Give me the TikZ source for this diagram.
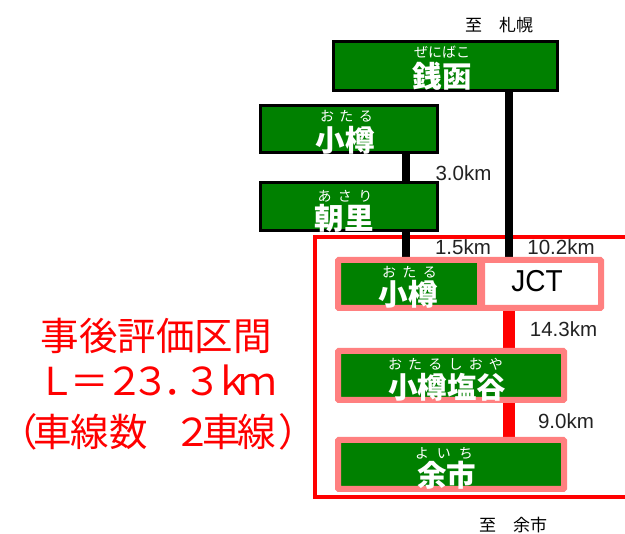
\documentclass[tikz,border=0pt]{standalone}
\usepackage{fontspec}
\setmainfont{Noto Sans CJK JP}
\newfontfamily\latin{Liberation Sans}
\definecolor{sgreen}{HTML}{008000}
\definecolor{pinkb}{HTML}{FF8080}
\definecolor{kmgray}{HTML}{222222}
\newcommand{\fz}[1]{\fontsize{#1}{#1}\selectfont}
\newcommand{\charat}[2]{\makebox[0pt][l]{\hspace*{#1pt}\makebox[0pt]{#2}}}
\tikzset{
  gbox/.style={draw=black, line width=2pt, fill=sgreen, inner sep=0pt},
  pbox/.style={draw=pinkb, line width=4pt, fill=sgreen, inner sep=0pt, rounded corners=1.5pt},
  jbox/.style={draw=pinkb, line width=4pt, fill=white, inner sep=0pt, rounded corners=1.5pt},
  furi/.style={text=white, font=\fz{14}, inner sep=0pt},
  kanji/.style={text=white, font=\fz{29.5}\bfseries, inner sep=0pt},
  km/.style={text=kmgray, font=\latin\fz{20.5}, inner sep=0pt},
  dest/.style={text=black, font=\fz{17}, inner sep=0pt},
  redtxt/.style={text=red, font=\fz{38.5}, inner sep=0pt},
  blkline/.style={line width=8pt, black},
  redline/.style={line width=12pt, red},
}
\begin{document}
\begin{tikzpicture}[x=1pt,y=-1pt]
\clip (0,0) rectangle (625,534);
\fill[white] (0,0) rectangle (625,534);

% red evaluation frame
\draw[red, line width=4pt] (640,237) -- (315,237) -- (315,497) -- (640,497);

% coordinates for connector x positions
\coordinate (xa) at (405.5,0);
\coordinate (xb) at (508.5,0);
\coordinate (xc) at (509,0);

% boxes (nodes)
\node[gbox, minimum width=223pt, minimum height=48pt] (zenibako) at (445.5,66.5) {};
\node[gbox, minimum width=176pt, minimum height=46pt] (otaru1) at (348.5,129.5) {};
\node[gbox, minimum width=176pt, minimum height=47pt] (asari) at (348.5,207) {};
\node[pbox, minimum width=142pt, minimum height=46pt] (otaru2) at (410,284) {};
\node[jbox, minimum width=119pt, minimum height=46pt] (jct) at (540.5,284) {};
\node[pbox, minimum width=224pt, minimum height=47pt] (shioya) at (451,375.5) {};
\node[pbox, minimum width=224pt, minimum height=47pt] (yoichi) at (451,464.5) {};

% connectors
\draw[blkline] (otaru1.south -| xa) -- (asari.north -| xa);
\draw[blkline] (asari.south -| xa) -- (otaru2.north -| xa);
\draw[blkline] (zenibako.south -| xb) -- (jct.north -| xb);
\draw[redline] (jct.south -| xc) -- (shioya.north -| xc);
\draw[redline] (shioya.south -| xc) -- (yoichi.north -| xc);

% redraw box borders on top of connectors
\draw[black, line width=2pt] (zenibako.south west) rectangle (zenibako.north east);
\draw[black, line width=2pt] (otaru1.south west) rectangle (otaru1.north east);
\draw[black, line width=2pt] (asari.south west) rectangle (asari.north east);
\draw[pinkb, line width=4pt, rounded corners=1.5pt] (otaru2.south west) rectangle (otaru2.north east);
\draw[pinkb, line width=4pt, rounded corners=1.5pt] (jct.south west) rectangle (jct.north east);
\draw[pinkb, line width=4pt, rounded corners=1.5pt] (shioya.south west) rectangle (shioya.north east);
\draw[pinkb, line width=4pt, rounded corners=1.5pt] (yoichi.south west) rectangle (yoichi.north east);

% box texts
\node[furi] (zf) at (442,52.5) {\makebox[56pt]{ぜ\hfill に\hfill ば\hfill こ}};
\node[kanji] (zk) at (442,76.5) {銭函};
\node[furi] (o1f) at (346.5,116) {\makebox[53pt]{お\hfill た\hfill る}};
\node[kanji] (o1k) at (345,140) {小樽};
\node[furi] (af) at (345,196) {\makebox[55pt]{あ\hfill さ\hfill り}};
\node[kanji] (ak) at (344,218.5) {朝里};
\node[furi] (o2f) at (409.5,272.5) {\makebox[55pt]{お\hfill た\hfill る}};
\node[kanji] (o2k) at (408,294) {小樽};
\node[furi] (sf) at (445.5,364.5) {\makebox[115pt]{お\hfill た\hfill る\hfill し\hfill お\hfill や}};
\node[kanji] (sk) at (447,387) {小樽塩谷};
\node[furi] (yf) at (444,453.5) {\makebox[58pt]{よ\hfill い\hfill ち}};
\node[kanji] (yk) at (446.5,475) {余市};
\node[text=black, font=\latin\fz{28}, inner sep=0pt, yscale=1.08, transform shape] (jt) at (537,281.5) {JCT};

% distance labels
\node[km] (d1) at (463.5,173.5) {3.0km};
\node[km] (d2) at (463,247) {1.5km};
\node[km] (d3) at (561,247) {10.2km};
\node[km] (d4) at (563.5,329.5) {14.3km};
\node[km] (d5) at (566,421) {9.0km};

% destinations
\node[dest] (top) at (499,25.5) {至　札幌};
\node[dest] (bot) at (513,525.5) {至　余市};

% red description
\node[redtxt, anchor=base] (r1) at (156.5,350.5) {事後評価区間};
\node[redtxt, anchor=base west] (r2) at (0,395.4)
  {\charat{56.5}{Ｌ}\charat{89}{＝}\charat{124.5}{２}\charat{150}{３}\charat{182}{．}\charat{202.5}{３}\charat{232}{ｋ}\charat{257.5}{ｍ}};
\node[redtxt, anchor=base west] (r3) at (0,446.5)
  {\charat{18.5}{（}\charat{52.5}{車}\charat{89}{線}\charat{128.5}{数}\charat{160}{　}\charat{192}{２}\charat{221}{車}\charat{256.5}{線}\charat{297.5}{）}};
\end{tikzpicture}
\end{document}
